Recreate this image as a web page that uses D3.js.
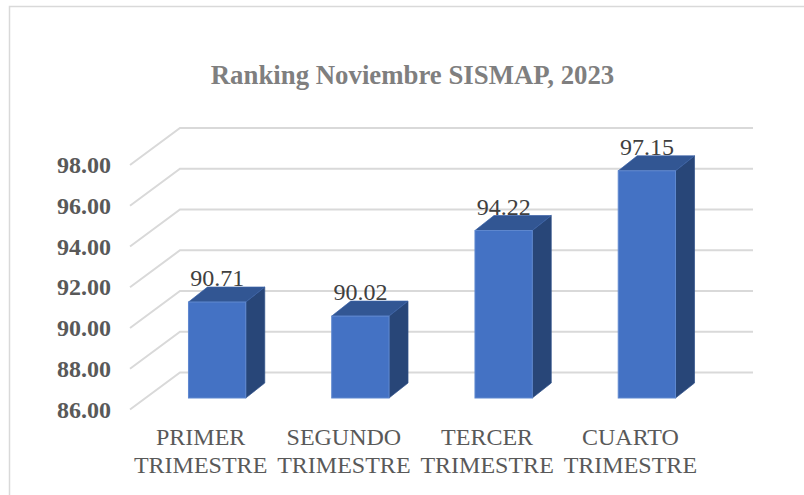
<!DOCTYPE html>
<html><head><meta charset="utf-8">
<script src="https://cdn.jsdelivr.net/npm/d3@7"></script>
<style>html,body{margin:0;padding:0;background:#fff}svg{display:block}text{font-family:"Liberation Serif",serif}</style>
</head><body><div id="c"></div>
<script>
const chartTitle = "Ranking Noviembre SISMAP, 2023";
const categories = [["PRIMER","TRIMESTRE"],["SEGUNDO","TRIMESTRE"],["TERCER","TRIMESTRE"],["CUARTO","TRIMESTRE"]];
const values = [90.71,90.02,94.22,97.15];
const tickValues = [86,88,90,92,94,96,98];

const W=804,H=495;
const svg=d3.select("#c").append("svg").attr("width",W).attr("height",H);
svg.append("path").attr("d","M9.5,495V6.5H804").attr("fill","none").attr("stroke","#d9d9d9").attr("stroke-width",1.5);

const y=d3.scaleLinear().domain([86,98]).range([409.5,165]);
const x=d3.scaleBand().domain(d3.range(categories.length)).range([130,703]).paddingInner(0.6).paddingOuter(0.3);
const wall={dx:50,dy:-37}, plane={dx:15.5,dy:-11.5}, depth={dx:19,dy:-15};

svg.append("text").attr("x",412.5).attr("y",84).attr("text-anchor","middle")
  .attr("font-size",26.8).attr("font-weight","bold").attr("fill","#7f7f7f").text(chartTitle);

const g=svg.append("g").selectAll("g").data(tickValues).join("g");
g.append("path").attr("fill","none").attr("stroke","#d9d9d9").attr("stroke-width",2)
 .attr("d",d=>{const p=d3.path();p.moveTo(130,y(d));p.lineTo(130+wall.dx,y(d)+wall.dy);p.lineTo(703+wall.dx,y(d)+wall.dy);return p;});
g.append("text").attr("x",111).attr("y",d=>y(d)+8).attr("text-anchor","end")
 .attr("font-size",24).attr("font-weight","bold").attr("fill","#595959").text(d=>d3.format(".2f")(d));

const b=svg.append("g").selectAll("g").data(values).join("g");
const xl=(d,i)=>x(i)+plane.dx, xr=(d,i)=>xl(d,i)+x.bandwidth();
const yt=d=>y(d)+plane.dy, yb=y(86)+plane.dy;
const edge="#5f88cf";
b.append("path").attr("fill","#284678").attr("stroke","#2f5089").attr("stroke-width",.7)
 .attr("d",(d,i)=>`M${xr(d,i)},${yt(d)}l${depth.dx},${depth.dy}V${yb+depth.dy}L${xr(d,i)},${yb}Z`);
b.append("path").attr("fill","#325693").attr("stroke","#3a62a8").attr("stroke-width",.7)
 .attr("d",(d,i)=>`M${xl(d,i)},${yt(d)}l${depth.dx},${depth.dy}H${xr(d,i)+depth.dx}L${xr(d,i)},${yt(d)}Z`);
b.append("rect").attr("x",xl).attr("y",yt).attr("width",x.bandwidth()).attr("height",d=>yb-yt(d))
 .attr("fill","#4472c4").attr("stroke",edge).attr("stroke-width",1);
b.append("text").attr("x",(d,i)=>xl(d,i)+x.bandwidth()/2).attr("y",d=>yt(d)-16).attr("text-anchor","middle")
 .attr("font-size",24).attr("fill","#404040").text(d=>d3.format(".2f")(d));

const l=svg.append("g").selectAll("text").data(categories).join("text")
 .attr("text-anchor","middle").attr("font-size",24).attr("fill","#595959");
l.selectAll("tspan").data((d,i)=>d.map(t=>({t,i}))).join("tspan")
 .attr("x",d=>x(d.i)+x.bandwidth()/2-1).attr("y",(d,j)=>445+j*28).text(d=>d.t);
</script></body></html>
